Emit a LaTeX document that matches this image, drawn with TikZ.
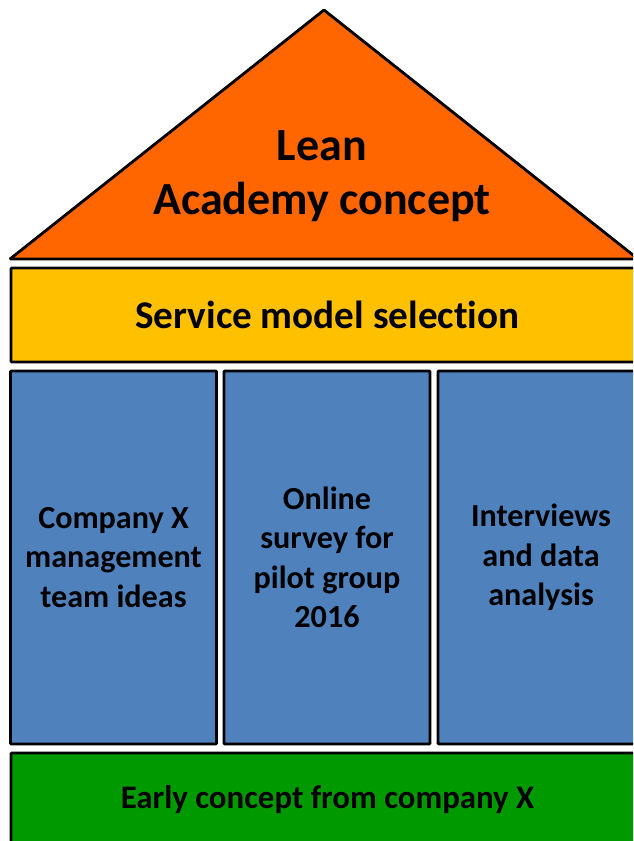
\documentclass[tikz,border=0pt]{standalone}
\usepackage{fontspec}
\setmainfont{Carlito}[Ligatures=NoCommon]
\definecolor{roofc}{HTML}{FF6600}
\definecolor{beamc}{HTML}{FFC000}
\definecolor{pillarc}{HTML}{4F81BD}
\definecolor{basec}{HTML}{009900}
\tikzset{
  block/.style={draw, line width=1.6pt, rounded corners=0.5pt, inner sep=0pt},
  pillar/.style={block, fill=pillarc, minimum width=4.12cm, minimum height=7.46cm,
    align=center, font=\bfseries\fontsize{18.3}{22.5}\selectfont},
}
\begin{document}
\begin{tikzpicture}[x=0.02cm,y=-0.02cm]
        \useasboundingbox (0,0) rectangle (633,841);
        \clip (0,0) rectangle (633,841);
        % roof
        \draw[block, fill=roofc, line join=miter] (10,259) -- (324,10) -- (638,259) -- cycle;
        \node[align=center, font=\bfseries\fontsize{26.2}{30.5}\selectfont] (roof) at (322,176) {Lean\\Academy concept};
        % beam
        \node[block, fill=beamc, minimum width=12.66cm, minimum height=1.88cm,
          font=\bfseries\fontsize{22.3}{26}\selectfont] (beam) at (327.5,315) {Service model selection};
        % pillars
        \node[pillar] (p1) at (113.5,557.5) {Company X\\management\\team ideas};
        \node[pillar] (p2) at (327,557.5) {Online\\survey for\\pilot group\\2016};
        \node[pillar] (p3) at (541,557.5) {Interviews\\and data\\analysis};
        % foundation
        \node[block, fill=basec, minimum width=12.66cm, minimum height=1.88cm,
          font=\bfseries\fontsize{18.7}{22}\selectfont] (base) at (327.5,800) {Early concept from company X};
\end{tikzpicture}
\end{document}
